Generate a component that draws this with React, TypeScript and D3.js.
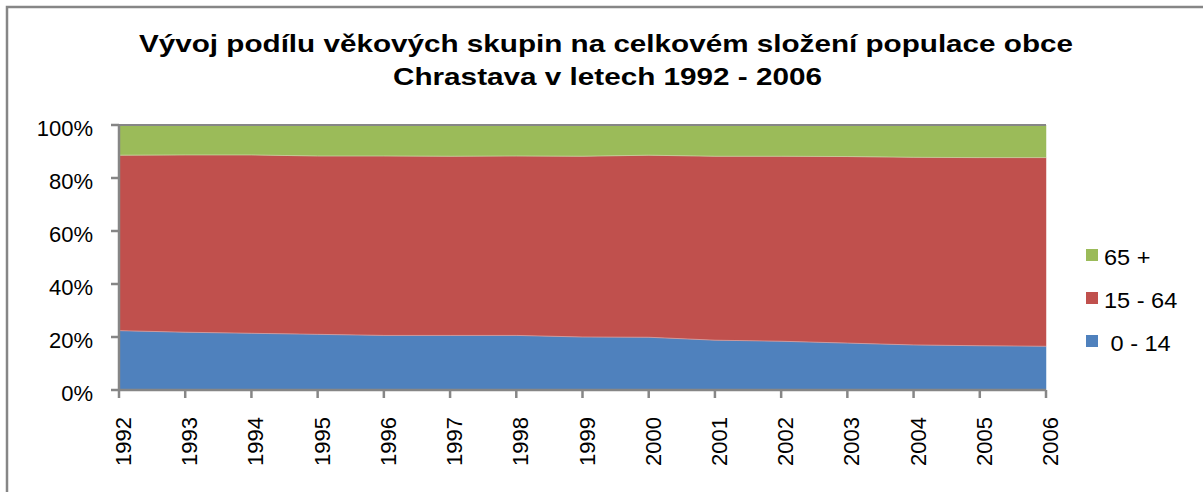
import React, { useEffect, useRef } from "react";
import * as d3 from "d3";

// data (share of population, %)
const years = ["1992", "1993", "1994", "1995", "1996", "1997", "1998", "1999", "2000", "2001", "2002", "2003", "2004", "2005", "2006"];
const age0to14 = [22.4, 21.8, 21.4, 21.0, 20.6, 20.6, 20.6, 20.0, 19.9, 18.8, 18.4, 17.7, 17.0, 16.7, 16.5];
const age15to64 = [66.2, 66.9, 67.3, 67.3, 67.7, 67.6, 67.7, 68.2, 68.7, 69.4, 69.8, 70.4, 70.8, 71.0, 71.2];
const age65plus = [11.4, 11.3, 11.3, 11.7, 11.7, 11.8, 11.7, 11.8, 11.4, 11.8, 11.8, 11.9, 12.2, 12.3, 12.3];
const seriesKeys = ["young", "mid", "old"];
const seriesLabels = [" 0 - 14", "15 - 64", "65 +"];
const seriesColors = ["#4F81BD", "#C0504D", "#9BBB59"];
const yTicks = [0, 0.2, 0.4, 0.6, 0.8, 1];

const W = 1203;
const H = 492;
const FONT = "'Liberation Sans', Arial, sans-serif";
const AXIS = "#868686";

const App = () => {
    const svgRef = useRef<SVGSVGElement>(null);

    useEffect(() => {
        const svg = d3.select(svgRef.current);
        svg.selectAll("*").remove();

        const margin = { left: 119, right: W - 1046, top: 125, bottom: H - 390 };

        // outer chart frame (right & bottom edges fall outside the picture)
        svg.append("rect")
            .attr("x", 7).attr("y", 7)
            .attr("width", W + 20).attr("height", H + 20)
            .attr("fill", "white")
            .attr("stroke", AXIS)
            .attr("stroke-width", 2.5);

        // title (the original is stretched horizontally)
        const title = svg.append("g")
            .attr("font-family", FONT)
            .attr("font-weight", "bold")
            .attr("font-size", 24.5)
            .attr("fill", "black");
        title.append("text")
            .attr("x", 139).attr("y", 52)
            .attr("textLength", 934)
            .attr("lengthAdjust", "spacingAndGlyphs")
            .text("Vývoj podílu věkových skupin na celkovém složení populace obce");
        title.append("text")
            .attr("x", 393).attr("y", 85)
            .attr("textLength", 429)
            .attr("lengthAdjust", "spacingAndGlyphs")
            .text("Chrastava v letech 1992 - 2006");

        const x = d3.scalePoint<string>()
            .domain(years)
            .range([margin.left, W - margin.right]);
        const y = d3.scaleLinear()
            .domain([0, 1])
            .range([H - margin.bottom, margin.top]);

        const rows = years.map((yr, i) => ({
            year: yr,
            young: age0to14[i],
            mid: age15to64[i],
            old: age65plus[i]
        }));

        const stack = d3.stack<any>()
            .keys(seriesKeys)
            .offset(d3.stackOffsetExpand);
        const layers = stack(rows);

        const area = d3.area<any>()
            .x(d => x(d.data.year) as number)
            .y0(d => y(d[0]))
            .y1(d => y(d[1]));

        svg.append("g")
            .selectAll("path")
            .data(layers)
            .enter().append("path")
            .attr("d", area)
            .attr("fill", (d, i) => seriesColors[i])
            .attr("stroke", (d, i) => seriesColors[i])
            .attr("stroke-width", 0.5);

        // thin light seams between the layers
        const seam = d3.line<any>()
            .x(d => x(d.data.year) as number)
            .y(d => y(d[1]));
        svg.append("g")
            .selectAll("path")
            .data(layers.slice(0, 2))
            .enter().append("path")
            .attr("d", seam)
            .attr("fill", "none")
            .attr("stroke", "rgba(255,255,255,0.35)")
            .attr("stroke-width", 1);

        // top line at 100 %
        svg.append("line")
            .attr("x1", margin.left).attr("x2", W - margin.right)
            .attr("y1", y(1)).attr("y2", y(1))
            .attr("stroke", AXIS).attr("stroke-width", 2);

        // y axis
        const yAxis = svg.append("g");
        yAxis.append("line")
            .attr("x1", margin.left).attr("x2", margin.left)
            .attr("y1", y(0)).attr("y2", y(1))
            .attr("stroke", AXIS).attr("stroke-width", 2.5);
        yAxis.selectAll("line.tick")
            .data(yTicks)
            .enter().append("line")
            .attr("class", "tick")
            .attr("x1", margin.left - 8).attr("x2", margin.left)
            .attr("y1", d => y(d)).attr("y2", d => y(d))
            .attr("stroke", AXIS).attr("stroke-width", 2.5);
        yAxis.selectAll("text")
            .data(yTicks)
            .enter().append("text")
            .attr("x", 93)
            .attr("y", d => y(d) + 11)
            .attr("text-anchor", "end")
            .attr("font-family", FONT)
            .attr("font-size", 22)
            .attr("fill", "black")
            .text(d => d3.format(".0%")(d));

        // x axis
        const xAxis = svg.append("g");
        xAxis.append("line")
            .attr("x1", margin.left).attr("x2", W - margin.right)
            .attr("y1", y(0)).attr("y2", y(0))
            .attr("stroke", AXIS).attr("stroke-width", 2.5);
        xAxis.selectAll("line.tick")
            .data(years)
            .enter().append("line")
            .attr("class", "tick")
            .attr("x1", d => x(d) as number).attr("x2", d => x(d) as number)
            .attr("y1", y(0)).attr("y2", y(0) + 8)
            .attr("stroke", AXIS).attr("stroke-width", 2.5);
        xAxis.selectAll("text")
            .data(years)
            .enter().append("text")
            .attr("transform", d => `translate(${(x(d) as number) + 12},417) rotate(-90)`)
            .attr("text-anchor", "end")
            .attr("font-family", FONT)
            .attr("font-size", 22)
            .attr("fill", "black")
            .text(d => d);

        // legend (top to bottom: 65 +, 15 - 64, 0 - 14)
        const legendOrder = [2, 1, 0];
        const legend = svg.append("g");
        legendOrder.forEach((s, i) => {
            const ly = 249 + i * 43;
            legend.append("rect")
                .attr("x", 1086).attr("y", ly)
                .attr("width", 12).attr("height", 12)
                .attr("fill", seriesColors[s]);
            legend.append("text")
                .attr("transform", `translate(1104,${ly + 16}) scale(1.07,1)`)
                .attr("font-family", FONT)
                .attr("font-size", 22)
                .attr("fill", "black")
                .attr("xml:space", "preserve")
                .style("white-space", "pre")
                .text(seriesLabels[s]);
        });
    }, []);

    return (
        <svg
            ref={svgRef}
            width={W}
            height={H}
            style={{ position: "absolute", left: 0, top: 0, background: "white" }}
        />
    );
};

export default App;
